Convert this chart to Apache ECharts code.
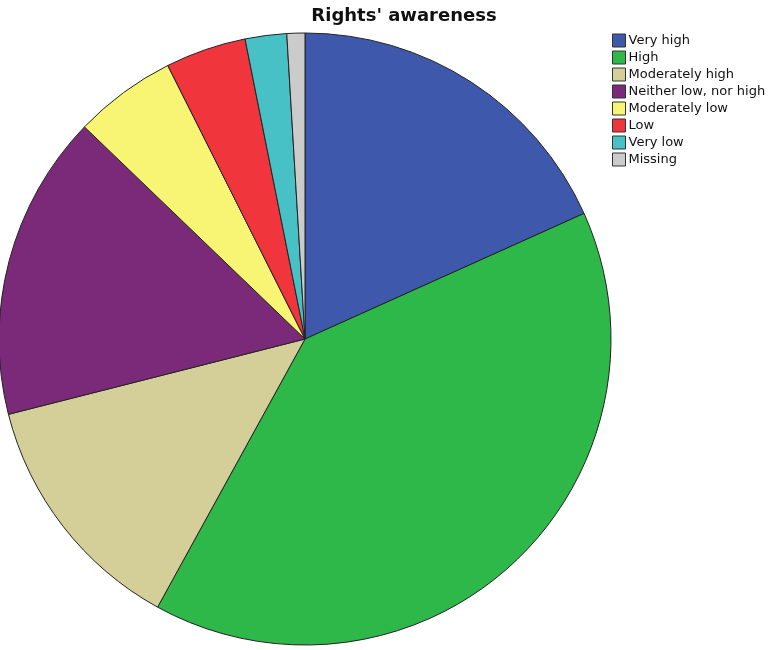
<!DOCTYPE html>
<html>
<head>
<meta charset="utf-8">
<script src="https://cdn.jsdelivr.net/npm/echarts@6/dist/echarts.min.js"></script>
<style>
  html, body { margin: 0; padding: 0; background: #fff; }
  #chart { width: 771px; height: 650px; }
</style>
</head>
<body>
<div id="chart"></div>
<script>
// Rights' awareness — share of respondents per level (%)
const categories = ['Very high', 'High', 'Moderately high', 'Neither low, nor high',
                    'Moderately low', 'Low', 'Very low', 'Missing'];
const shares = [18.27, 39.73, 13.04, 16.15, 5.41, 4.26, 2.19, 0.95];
const sliceColors = ['#3E58AC', '#2EB84A', '#D4CF98', '#7B2A7A',
                     '#F8F574', '#F1353C', '#47C1C6', '#CBCBCB'];

const chart = echarts.init(document.getElementById('chart'));
chart.setOption({
  animation: false,
  title: {
    text: "Rights' awareness",
    left: 399, top: 2, textAlign: 'center',
    textStyle: { fontFamily: 'DejaVu Sans', fontWeight: 'bold', fontSize: 18, color: '#111' }
  },
  legend: {
    orient: 'vertical',
    left: 607, top: 28,
    itemWidth: 13, itemHeight: 13, itemGap: 2,
    icon: 'rect',
    selectedMode: false,
    itemStyle: { borderColor: '#333', borderWidth: 1 },
    textStyle: { fontFamily: 'DejaVu Sans', fontSize: 13, lineHeight: 15, color: '#111', padding: [0, 0, 0, -2] },
    data: categories
  },
  color: sliceColors,
  series: [{
    type: 'pie',
    center: [305, 339],
    radius: 306,
    startAngle: 90,
    clockwise: true,
    label: { show: false },
    labelLine: { show: false },
    emphasis: { disabled: true },
    itemStyle: { borderColor: '#222', borderWidth: 1 },
    data: categories.map((name, i) => ({ name, value: shares[i] }))
  }]
});
</script>
</body>
</html>
